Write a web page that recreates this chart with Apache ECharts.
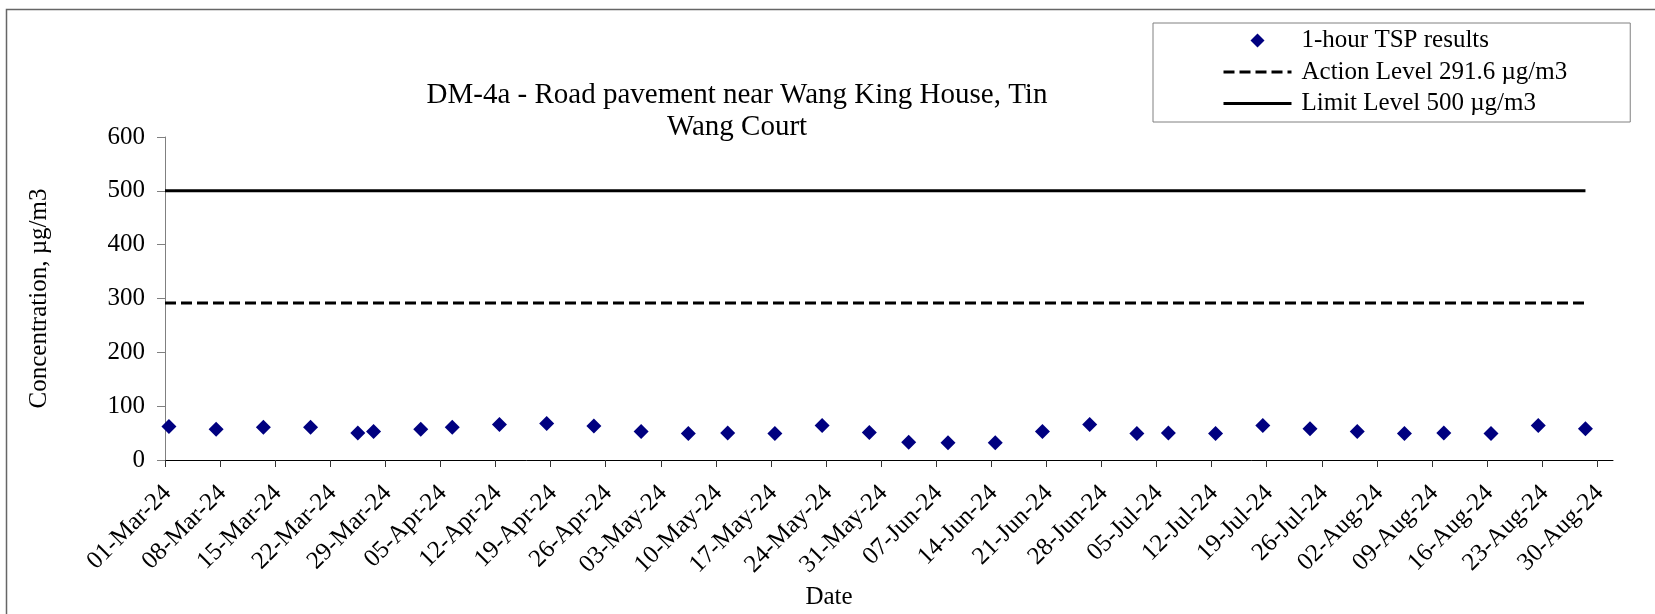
<!DOCTYPE html>
<html>
<head>
<meta charset="utf-8">
<script src="https://cdn.jsdelivr.net/npm/echarts@6/dist/echarts.min.js"></script>
<style>
  html, body { margin: 0; padding: 0; background: #fff; }
  #chart { width: 1655px; height: 614px; }
</style>
</head>
<body>
<div id="chart"></div>
<script>
const sampleDates = [
  '2024-03-01', '2024-03-07', '2024-03-13', '2024-03-19', '2024-03-25', '2024-03-27',
  '2024-04-02', '2024-04-06', '2024-04-12', '2024-04-18', '2024-04-24', '2024-04-30',
  '2024-05-06', '2024-05-11', '2024-05-17', '2024-05-23', '2024-05-29',
  '2024-06-03', '2024-06-08', '2024-06-14', '2024-06-20', '2024-06-26',
  '2024-07-02', '2024-07-06', '2024-07-12', '2024-07-18', '2024-07-24', '2024-07-30',
  '2024-08-05', '2024-08-10', '2024-08-16', '2024-08-22', '2024-08-28'
]
const tspValues = [
  62, 57, 61, 61, 50, 53,
  57, 61, 66, 68, 63, 53,
  49, 50, 49, 64, 51,
  33, 32, 32, 53, 66,
  49, 50, 49, 64, 58, 53,
  49, 50, 49, 64, 58
]
const actionLevel = 291.6
const limitLevel = 500
const axisStart = '2024-03-01'
const axisEnd = '2024-09-01'
const tickDays = 7

const tspName = '1-hour TSP results'
const actionName = 'Action Level 291.6 µg/m3'
const limitName = 'Limit Level 500 µg/m3'

const DAY = 86400000
const MONTHS = ['Jan', 'Feb', 'Mar', 'Apr', 'May', 'Jun', 'Jul', 'Aug', 'Sep', 'Oct', 'Nov', 'Dec']
const t0 = Date.parse(axisStart)
function dayOf(d) {
  return (Date.parse(d) - t0) / DAY
}
function fmtDate(v) {
  const d = new Date(t0 + v * DAY)
  const dd = String(d.getUTCDate()).padStart(2, '0')
  return dd + '-' + MONTHS[d.getUTCMonth()] + '-' + String(d.getUTCFullYear()).slice(2)
}

// excel date axis: each point sits in the middle of its day
const points = sampleDates.map((d, i) => [dayOf(d) + 0.5, tspValues[i]])
const xMax = dayOf(axisEnd)
const weekTicks = []
for (let v = 0; v <= xMax; v += tickDays) weekTicks.push(v)
const lineEnd = points[points.length - 1][0]

const font = 'Liberation Serif'
const chart = echarts.init(document.getElementById('chart'))
const option = {
  backgroundColor: '#fff',
  animation: false,
  textStyle: { fontFamily: font },
  title: {
    text: 'DM-4a - Road pavement near Wang King House, Tin\nWang Court',
    left: 732,
    top: 74,
    textAlign: 'center',
    textStyle: { fontFamily: font, fontSize: 29, fontWeight: 'normal', color: '#000', lineHeight: 32 },
  },
  legend: {
    orient: 'vertical',
    left: 1153,
    top: 23,
    padding: [5, 63, 6, 69],
    itemWidth: 68,
    itemHeight: 14,
    itemGap: 6.5,
    borderColor: '#808080',
    borderWidth: 1,
    selectedMode: false,
    lineStyle: { width: 3 },
    textStyle: { fontFamily: font, fontSize: 25, lineHeight: 25, color: '#000', padding: [0, 0, 0, 5] },
    data: [
      { name: tspName, icon: 'path://M0,-1L1,0L0,1L-1,0Z', itemStyle: { opacity: 1 } },
      { name: actionName, itemStyle: { opacity: 0 } },
      { name: limitName, itemStyle: { opacity: 0 } },
    ],
  },
  grid: { left: 165, right: 42, top: 137, bottom: 154, containLabel: false, outerBoundsMode: 'none' },
  xAxis: {
    type: 'value',
    min: 0,
    max: xMax,
    interval: tickDays,
    name: 'Date',
    nameLocation: 'middle',
    nameGap: 120,
    nameTextStyle: { fontFamily: font, fontSize: 25, color: '#000', padding: [0, 120, 0, 0] },
    axisLine: { lineStyle: { color: '#000', width: 1 } },
    axisTick: { customValues: weekTicks, length: 7, lineStyle: { color: '#333' } },
    axisLabel: {
      customValues: weekTicks,
      rotate: 45,
      margin: 14,
      verticalAlign: 'top',
      padding: [0, 9, 0, 0],
      formatter: fmtDate,
      fontFamily: font,
      fontSize: 25,
      color: '#000',
    },
    splitLine: { show: false },
  },
  yAxis: {
    type: 'value',
    min: 0,
    max: 600,
    interval: 100,
    name: 'Concentration, µg/m3',
    nameLocation: 'middle',
    nameGap: 113,
    nameRotate: 90,
    nameTextStyle: { fontFamily: font, fontSize: 25, color: '#000' },
    axisLine: { show: true, lineStyle: { color: '#808080', width: 1 } },
    axisTick: { show: true, length: 8, lineStyle: { color: '#808080' } },
    axisLabel: { margin: 20, fontFamily: font, fontSize: 25, color: '#000' },
    splitLine: { show: false },
  },
  graphic: [
    {
      type: 'rect',
      silent: true,
      shape: { x: 6.5, y: 9.5, width: 1700, height: 700 },
      style: { fill: 'none', stroke: '#666', lineWidth: 1.5 },
    },
  ],
  series: [
    {
      name: limitName,
      type: 'line',
      symbol: 'none',
      silent: true,
      lineStyle: { color: '#000', width: 3 },
      itemStyle: { color: '#000' },
      data: [[0, limitLevel], [lineEnd, limitLevel]],
      z: 2,
    },
    {
      name: actionName,
      type: 'line',
      symbol: 'none',
      silent: true,
      lineStyle: { color: '#000', width: 3, type: [11, 5] },
      itemStyle: { color: '#000' },
      data: [[0, actionLevel], [lineEnd, actionLevel]],
      z: 2,
    },
    {
      name: tspName,
      type: 'scatter',
      symbol: 'diamond',
      symbolSize: 15,
      itemStyle: { color: '#000080', opacity: 1 },
      data: points,
      z: 3,
    },
  ],
}
chart.setOption(option)
</script>
</body>
</html>
